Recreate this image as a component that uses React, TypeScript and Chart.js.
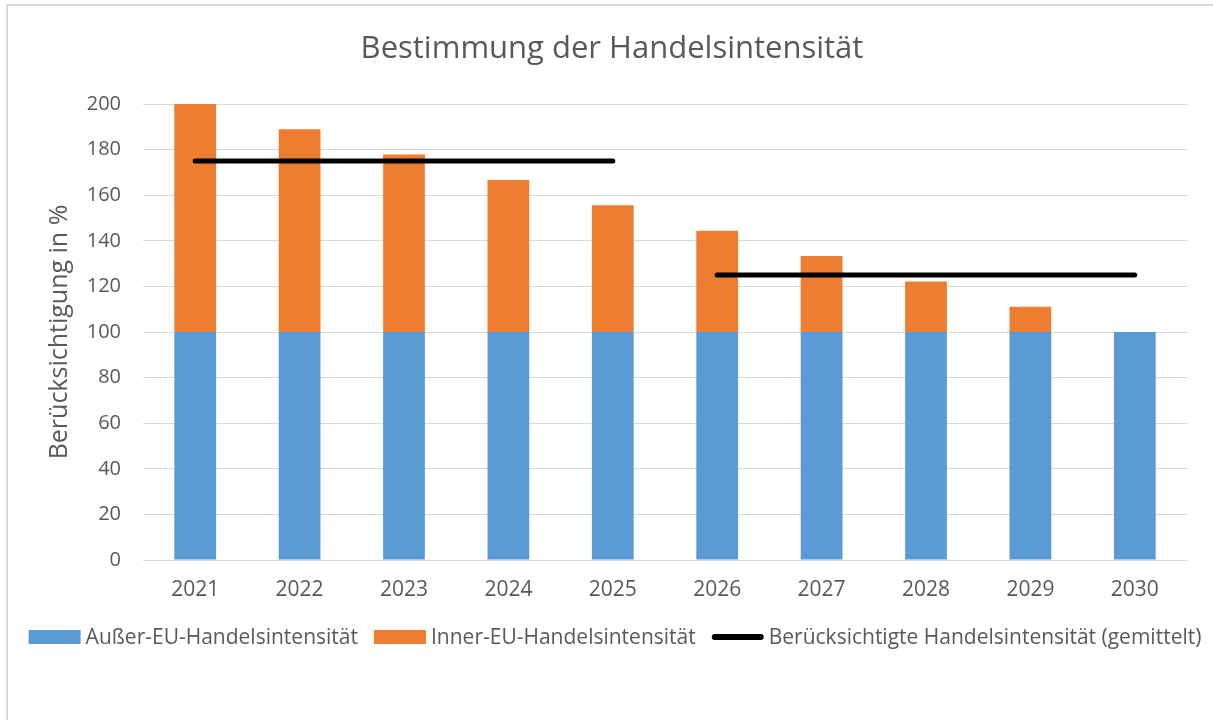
import React, { useEffect, useRef } from "react";
import { Chart, registerables } from "chart.js";

Chart.register(...registerables);

const TITLE = "Bestimmung der Handelsintensität";
const Y_TITLE = "Berücksichtigung in %";
const years = ["2021", "2022", "2023", "2024", "2025", "2026", "2027", "2028", "2029", "2030"];
const ausserEU = [100, 100, 100, 100, 100, 100, 100, 100, 100, 100];
const innerEU = [100, 88.9, 77.8, 66.7, 55.6, 44.4, 33.3, 22.2, 11.1, 0];
const gemittelt = [175, 175, 175, 175, 175, 125, 125, 125, 125, 125];
const labelAusser = "Außer-EU-Handelsintensität";
const labelInner = "Inner-EU-Handelsintensität";
const labelGemittelt = "Berücksichtigte Handelsintensität (gemittelt)";

const FONT = "'Open Sans', sans-serif";
const TEXT = "#595959";
const BLUE = "#5B9BD5";
const ORANGE = "#ED7D31";
const GRID = "#D9D9D9";

const decorPlugin = {
  id: "decor",
  beforeDraw(chart: any) {
    const ctx = chart.ctx;
    ctx.save();
    ctx.fillStyle = "#ffffff";
    ctx.fillRect(0, 0, chart.width, chart.height);
    ctx.strokeStyle = GRID;
    ctx.lineWidth = 2;
    ctx.strokeRect(7, 5, chart.width + 10, chart.height + 10);
    ctx.restore();
  },
  afterDraw(chart: any) {
    const ctx = chart.ctx;
    ctx.save();
    // title
    ctx.fillStyle = TEXT;
    ctx.font = `31px ${FONT}`;
    ctx.textAlign = "center";
    ctx.textBaseline = "middle";
    ctx.fillText(TITLE, 612, 49);
    // legend
    ctx.font = `21px ${FONT}`;
    ctx.textAlign = "left";
    const ds = chart.data.datasets;
    const boxW = 52;
    const gapText = 5;
    const gapItem = 16;
    const widths = ds.map((d: any) => boxW + gapText + ctx.measureText(d.label).width);
    const total = widths.reduce((a: number, b: number) => a + b, 0) + gapItem * (ds.length - 1);
    let x = 615 - total / 2;
    const cy = 637;
    ds.forEach((d: any, i: number) => {
      if (d.type === "line") {
        ctx.strokeStyle = d.borderColor;
        ctx.lineWidth = 6;
        ctx.lineCap = "round";
        ctx.beginPath();
        ctx.moveTo(x + 3, cy);
        ctx.lineTo(x + boxW - 3, cy);
        ctx.stroke();
      } else {
        ctx.fillStyle = d.backgroundColor;
        ctx.fillRect(x, cy - 7, boxW, 14);
      }
      ctx.fillStyle = TEXT;
      ctx.fillText(d.label, x + boxW + gapText, cy + 1);
      x += widths[i] + gapItem;
    });
    ctx.restore();
  },
};

export default function App() {
  const ref = useRef<HTMLCanvasElement>(null);
  useEffect(() => {
    if (!ref.current) return;
    const chart = new Chart(ref.current, {
      type: "bar",
      data: {
        labels: years,
        datasets: [
          {
            type: "bar",
            label: labelAusser,
            data: ausserEU,
            backgroundColor: BLUE,
            stack: "bars",
            order: 2,
          },
          {
            type: "bar",
            label: labelInner,
            data: innerEU,
            backgroundColor: ORANGE,
            stack: "bars",
            order: 2,
          },
          {
            type: "line",
            label: labelGemittelt,
            data: gemittelt,
            borderColor: "#000000",
            backgroundColor: "#000000",
            borderWidth: 5,
            borderCapStyle: "round",
            pointRadius: 0,
            stack: "avg",
            order: 1,
            segment: {
              borderColor: (c: any) => (c.p0.parsed.y !== c.p1.parsed.y ? "rgba(0,0,0,0)" : undefined),
            },
          } as any,
        ],
      },
      options: {
        responsive: false,
        animation: false,
        devicePixelRatio: 1,
        layout: { padding: { left: 0, right: 26, top: 104, bottom: 100 } },
        datasets: { bar: { categoryPercentage: 1, barPercentage: 0.4 } },
        plugins: { legend: { display: false }, title: { display: false }, tooltip: { enabled: false } },
        scales: {
          x: {
            stacked: true,
            grid: { display: false, drawTicks: false },
            border: { display: false },
            ticks: { color: TEXT, font: { family: FONT, size: 21 }, padding: 17 },
            afterFit: (s: any) => {
              s.height = 60;
            },
          },
          y: {
            stacked: true,
            min: 0,
            max: 200,
            grid: { color: GRID, lineWidth: 1, drawTicks: false },
            border: { display: false },
            ticks: { stepSize: 20, color: TEXT, font: { family: FONT, size: 20 }, padding: 22 },
            title: {
              display: true,
              text: Y_TITLE,
              color: TEXT,
              font: { family: FONT, size: 25 },
              padding: { top: 45, bottom: 0 },
            },
            afterFit: (s: any) => {
              s.width = 143;
            },
          },
        },
      },
      plugins: [decorPlugin],
    } as any);
    return () => chart.destroy();
  }, []);
  return (
    <div style={{ position: "fixed", left: 0, top: 0, width: 1213, height: 720 }}>
      <canvas ref={ref} width={1213} height={720} />
    </div>
  );
}
